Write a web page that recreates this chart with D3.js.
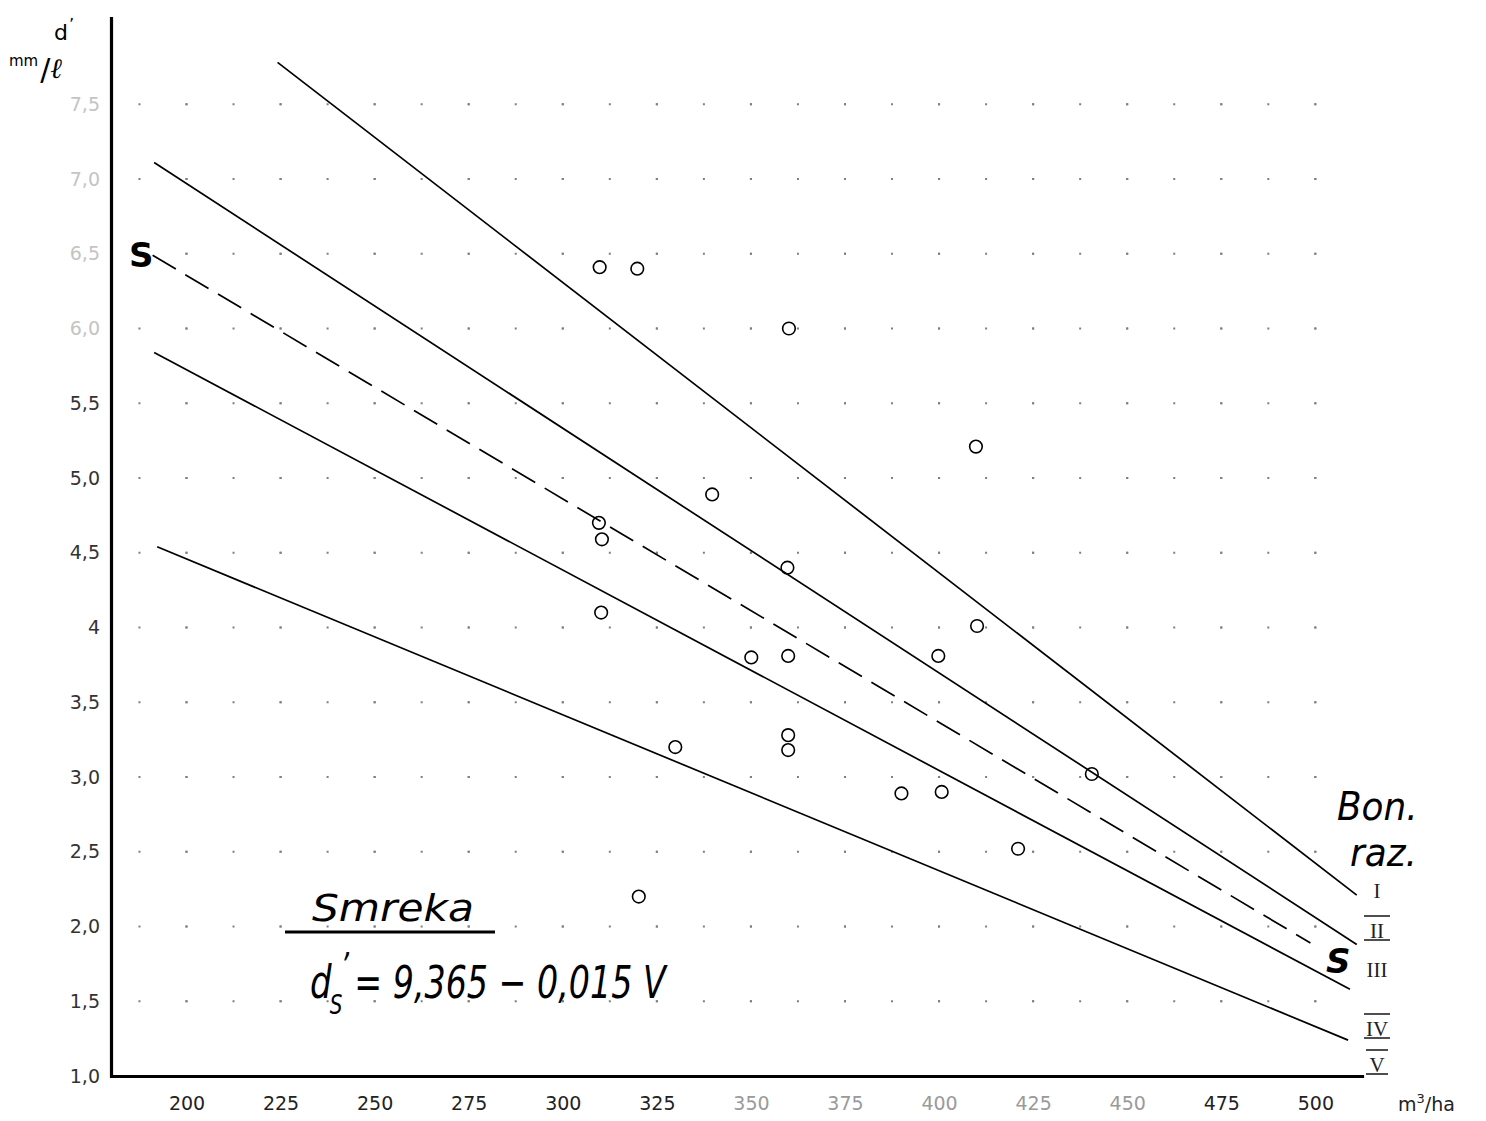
<!DOCTYPE html>
<html><head><meta charset="utf-8">
<script src="https://cdn.jsdelivr.net/npm/d3@7"></script>
<style>
html,body{margin:0;padding:0;background:#fff;}
svg{display:block;}
</style></head><body>
<svg id="chart" width="1486" height="1121"></svg>
<script>
// ---------- data ----------
const xTicks = [200,225,250,275,300,325,350,375,400,425,450,475,500];
const xTickLabels = ["200","225","250","275","300","325","350","375","400","425","450","475","500"];
const yTicks = [1.0,1.5,2.0,2.5,3.0,3.5,4.0,4.5,5.0,5.5,6.0,6.5,7.0,7.5];
const yTickLabels = ["1,0","1,5","2,0","2,5","3,0","3,5","4","4,5","5,0","5,5","6,0","6,5","7,0","7,5"];

// observed stands: volume V (m3/ha) and d' (mm/l)
const pointV = [309.8,319.8,360.1,409.8,339.7,309.6,310.4,359.7,310.2,410.1,350.1,359.9,399.8,329.9,359.9,359.9,440.6,390.0,400.7,421.0,320.2];
const pointD = [6.41,6.40,6.00,5.21,4.89,4.70,4.59,4.40,4.10,4.01,3.80,3.81,3.81,3.20,3.28,3.18,3.02,2.89,2.90,2.52,2.20];

// site-class boundary lines (solid)
const lineNames  = ["I","II","III","IV"];
const lineStartV = [224.2,191.4,191.4,192.2];
const lineStartD = [7.78,7.11,5.84,4.54];
const lineEndV   = [511.0,511.0,509.2,508.7];
const lineEndD   = [2.21,1.88,1.58,1.24];

// mean regression line S (dashed): d's = 9,365 - 0,015 V
const sLineV = [191.0,498.7];
const sLineD = [6.49,1.89];

const bonLabels = ["I","II","III","IV","V"];

// ---------- scales ----------
const svg = d3.select("#chart");
const x = d3.scaleLinear().domain([180.2, 512.4]).range([112, 1362]);
const y = d3.scaleLinear().domain([1, 8.077]).range([1076, 18]);

const FONT = "'DejaVu Sans', 'Liberation Sans', sans-serif";

// ---------- dotted grid ----------
const gStepY = y(1) - y(1.5);
const gStepX = (x(225) - x(200)) / 2;
const grid = svg.append("g").attr("stroke", "#555").attr("stroke-width", 2).attr("opacity", 0.75);
grid.selectAll("line.v").data(xTicks).join("line")
  .attr("x1", d => x(d)).attr("x2", d => x(d))
  .attr("y1", y(7.5) - 1).attr("y2", y(1.5) + 2)
  .attr("stroke-dasharray", `2,${gStepY - 2}`);
grid.selectAll("line.h").data(yTicks.slice(1)).join("line")
  .attr("y1", d => y(d)).attr("y2", d => y(d))
  .attr("x1", x(200) - gStepX - 1).attr("x2", x(500) + 2)
  .attr("stroke-dasharray", `2,${gStepX - 2}`);

// ---------- axes ----------
const yAxis = svg.append("g").attr("transform", "translate(111,0)")
  .call(d3.axisLeft(y).tickValues(yTicks).tickSize(0).tickSizeOuter(0).tickPadding(11)
        .tickFormat((d, i) => yTickLabels[i]));
const xAxis = svg.append("g").attr("transform", "translate(0,1076)")
  .call(d3.axisBottom(x).tickValues(xTicks).tickSize(0).tickSizeOuter(0).tickPadding(21)
        .tickFormat((d, i) => xTickLabels[i]));
[yAxis, xAxis].forEach(a => {
  a.select(".domain").attr("stroke", "#000").attr("stroke-width", 3.2).attr("stroke-linecap", "square");
  a.selectAll("text").attr("font-family", FONT).attr("font-size", 19).attr("fill", "#222");
});
yAxis.selectAll(".tick text").attr("fill", d => d >= 6 ? "#c4c4c4" : "#333");
xAxis.selectAll(".tick text").attr("fill", d => (d >= 350 && d <= 450) ? "#9a9a9a" : "#222");

// ---------- lines ----------
const lineGen = d3.line().x(p => x(p[0])).y(p => y(p[1]));
svg.append("g").selectAll("path").data(lineNames).join("path")
  .attr("d", (n, i) => lineGen([[lineStartV[i], lineStartD[i]], [lineEndV[i], lineEndD[i]]]))
  .attr("fill", "none").attr("stroke", "#000").attr("stroke-width", 1.7);

svg.append("path")
  .attr("d", lineGen(sLineV.map((v, i) => [v, sLineD[i]])))
  .attr("fill", "none").attr("stroke", "#000").attr("stroke-width", 1.7)
  .attr("stroke-dasharray", "27,11");

// ---------- points ----------
svg.append("g").selectAll("circle").data(pointV).join("circle")
  .attr("cx", d => x(d)).attr("cy", (d, i) => y(pointD[i]))
  .attr("r", 6.3).attr("fill", "none").attr("stroke", "#000").attr("stroke-width", 1.6);

// ---------- annotations ----------
// y-axis unit: d' over mm/l
const yu = svg.append("text").attr("x", 54).attr("y", 40).attr("font-family", FONT).attr("font-size", 22);
yu.append("tspan").text("d");
yu.append("tspan").attr("dx", 1).attr("dy", -10).attr("font-size", 16).text("’");
const yu2 = svg.append("text").attr("x", 9).attr("y", 66).attr("font-family", FONT).attr("font-size", 15);
yu2.append("tspan").text("mm");
yu2.append("tspan").attr("dy", 14).attr("dx", 2).attr("font-size", 30).text("/");
yu2.append("tspan").attr("dy", -2).attr("font-family", "'DejaVu Serif', serif")
  .attr("font-style", "italic").attr("font-size", 28).text("ℓ");

// x-axis unit
const unit = svg.append("text").attr("x", 1398).attr("y", 1111).attr("font-family", FONT)
  .attr("font-size", 19).attr("fill", "#222");
unit.append("tspan").text("m");
unit.append("tspan").attr("dy", -8).attr("font-size", 13).text("3");
unit.append("tspan").attr("dy", 8).text("/ha");

// S labels on the mean line
svg.append("text").attr("x", 129).attr("y", 267).attr("font-family", FONT)
  .attr("font-size", 34).attr("font-weight", "bold").text("S");
svg.append("text").attr("x", 1326).attr("y", 973).attr("font-family", FONT)
  .attr("font-size", 34).attr("font-style", "italic").attr("font-weight", "bold").text("S");

// Bon. raz.
svg.append("text").attr("font-family", FONT).attr("font-style", "italic").attr("font-size", 39)
  .attr("transform", "translate(1337,820) scale(0.92,1)").text("Bon.");
svg.append("text").attr("font-family", FONT).attr("font-style", "italic").attr("font-size", 39)
  .attr("transform", "translate(1350,866) scale(0.92,1)").text("raz.");

// site class numerals
const bonY = [898, 938, 977, 1036, 1072];
const bonBars = [false, true, false, true, true];
const bg = svg.append("g").attr("font-family", "'Liberation Serif', 'DejaVu Serif', serif").attr("fill", "#222");
bg.selectAll("text").data(bonLabels).join("text")
  .attr("x", 1377).attr("y", (d, i) => bonY[i]).attr("text-anchor", "middle")
  .attr("font-size", 21).text(d => d);
bonLabels.forEach((b, i) => {
  if (!bonBars[i]) return;
  const w = b.length > 1 ? 13 : 11;
  [bonY[i] - 22, bonY[i] + 2].forEach(yy => {
    bg.append("line").attr("x1", 1377 - w).attr("x2", 1377 + w)
      .attr("y1", yy).attr("y2", yy).attr("stroke", "#222").attr("stroke-width", 1.6);
  });
});

// Smreka title with underline
svg.append("text").attr("x", 312).attr("y", 921).attr("font-family", FONT)
  .attr("font-size", 38).attr("font-style", "italic")
  .attr("textLength", 162).attr("lengthAdjust", "spacingAndGlyphs").text("Smreka");
svg.append("line").attr("x1", 285).attr("x2", 495).attr("y1", 932).attr("y2", 932)
  .attr("stroke", "#000").attr("stroke-width", 3.2);

// formula as one text element: d's = 9,365 − 0,015 V
const fm = svg.append("text").attr("font-family", FONT).attr("font-style", "italic").attr("fill", "#000")
  .attr("transform", "translate(310,998) scale(0.74,1)");
fm.append("tspan").attr("x", 0).attr("y", 0).attr("font-size", 46).text("d");
fm.append("tspan").attr("dx", 12).attr("dy", -20).attr("font-size", 36).text("’");
fm.append("tspan").attr("dx", -26).attr("dy", 36).attr("font-size", 27).text("S");
fm.append("tspan").attr("dx", 16).attr("dy", -16).attr("font-size", 45).text("= 9,365 − 0,015 V");
</script>
</body></html>
